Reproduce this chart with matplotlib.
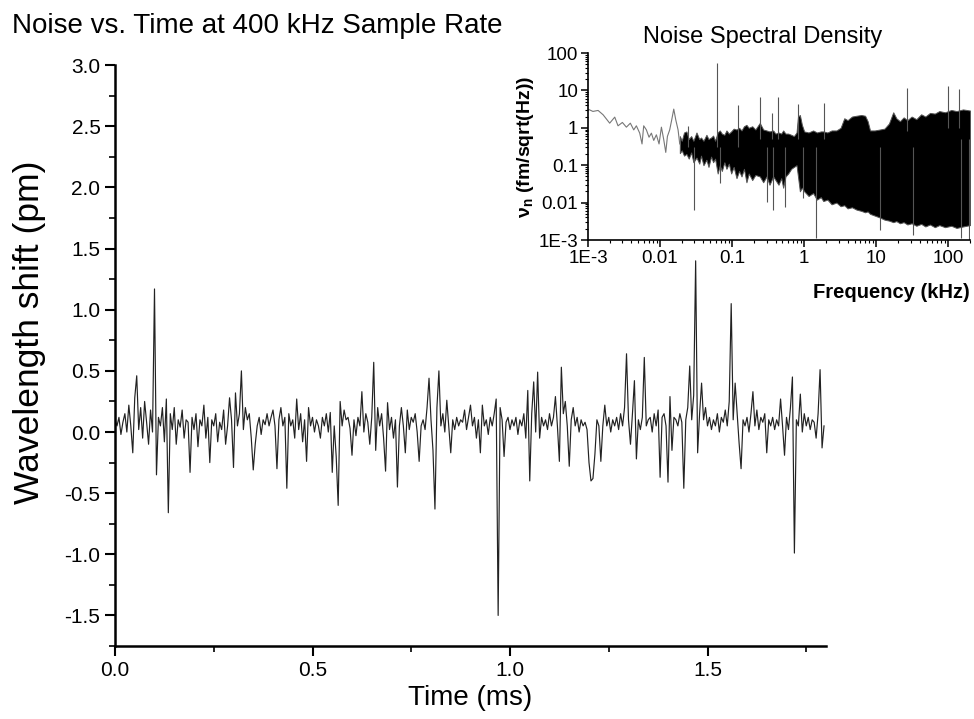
import matplotlib
matplotlib.use("Agg")
import matplotlib.pyplot as plt
import matplotlib.ticker as mticker
import numpy as np

plt.rcParams['font.family'] = ['Liberation Sans', 'DejaVu Sans']
plt.rcParams['axes.unicode_minus'] = False
plt.rcParams['mathtext.fontset'] = 'custom'
plt.rcParams['mathtext.rm'] = 'Liberation Sans'
plt.rcParams['mathtext.bf'] = 'Liberation Sans:bold'

# ---------------- main trace: wavelength shift (pm), sampled every 5 us ----------------
dt_ms = 0.005
shift_pm = [
    0.10, 0.05, 0.12, -0.02, 0.08, 0.15, 0.00, 0.22, 0.05, -0.17, 0.28, 0.46, 0.02, 0.20, -0.05, 0.25, 0.08, -0.10, 0.18, 0.00,
    1.17, -0.35, 0.12, 0.05, 0.20, -0.08, 0.27, -0.66, 0.15, 0.02, 0.20, -0.10, 0.10, 0.04, 0.18, -0.05, 0.10, 0.08, -0.33, 0.12,
    0.02, 0.15, -0.12, 0.10, 0.05, 0.22, -0.05, 0.12, -0.25, 0.10, 0.05, 0.15, -0.08, 0.08, 0.02, 0.18, -0.10, 0.05, 0.28, 0.10,
    -0.29, 0.32, 0.05, 0.15, 0.50, 0.02, 0.20, 0.10, 0.15, -0.05, -0.31, -0.10, 0.05, 0.12, -0.02, 0.10, 0.06, 0.15, 0.05, 0.12,
    0.18, 0.05, -0.30, 0.10, 0.20, 0.05, 0.12, -0.46, 0.15, 0.05, 0.10, -0.05, 0.27, 0.02, 0.15, -0.08, 0.10, -0.24, 0.20, 0.05,
    0.12, 0.00, 0.10, 0.05, -0.05, 0.12, 0.05, 0.15, 0.00, 0.16, -0.33, 0.05, -0.20, -0.60, 0.25, 0.05, 0.18, 0.10, 0.12, 0.03,
    -0.19, 0.10, -0.03, 0.12, 0.05, 0.33, 0.00, 0.15, 0.08, -0.10, 0.12, 0.57, -0.15, 0.20, 0.05, 0.15, -0.05, -0.32, 0.24, 0.02,
    0.12, -0.05, 0.10, -0.45, 0.05, 0.20, 0.05, -0.17, 0.18, 0.02, 0.12, 0.08, 0.15, 0.00, -0.24, 0.05, 0.10, 0.02, 0.20, 0.44,
    0.10, -0.15, -0.63, 0.20, 0.50, 0.05, 0.15, 0.00, 0.26, 0.05, -0.17, 0.10, 0.02, 0.12, 0.05, 0.10, 0.08, 0.18, 0.02, 0.12,
    0.22, 0.05, 0.12, -0.05, 0.10, -0.17, 0.22, 0.05, 0.10, -0.02, 0.12, 0.05, 0.15, 0.27, -1.50, 0.20, 0.10, -0.20, 0.08, 0.12,
    0.02, 0.10, 0.05, 0.12, -0.02, 0.10, 0.05, 0.15, -0.05, 0.34, -0.40, 0.15, 0.41, 0.00, 0.49, -0.05, 0.12, 0.05, 0.10, 0.02,
    0.15, 0.05, 0.12, 0.29, 0.05, -0.24, 0.53, 0.15, 0.25, 0.05, -0.28, 0.10, 0.20, 0.05, 0.12, 0.00, 0.10, 0.05, 0.08, 0.02,
    -0.25, -0.40, -0.38, -0.18, 0.10, 0.05, -0.24, 0.05, 0.22, 0.05, 0.12, 0.00, 0.10, 0.05, 0.12, 0.02, 0.15, 0.05, 0.20, 0.64,
    0.10, -0.10, 0.15, 0.42, -0.22, 0.10, 0.02, 0.12, 0.61, 0.05, 0.10, 0.12, 0.00, 0.15, 0.05, 0.18, -0.37, 0.12, 0.15, 0.05,
    -0.41, 0.29, -0.15, 0.12, 0.10, 0.05, 0.15, 0.08, -0.46, 0.10, 0.20, 0.54, 0.10, 0.30, 1.40, -0.17, 0.15, 0.40, 0.10, 0.20,
    0.05, 0.12, 0.02, 0.10, 0.05, 0.15, 0.00, 0.12, 0.08, 0.18, 0.05, 0.25, 1.05, 0.10, 0.40, 0.15, -0.09, -0.30, 0.10, 0.05,
    0.12, 0.00, 0.15, 0.33, 0.05, 0.18, 0.02, 0.12, 0.08, 0.15, -0.17, 0.10, 0.05, 0.12, 0.02, 0.10, 0.05, 0.27, 0.05, -0.19,
    0.12, 0.02, 0.20, 0.45, -0.99, 0.10, 0.05, 0.31, 0.00, 0.15, 0.05, 0.12, 0.02, 0.10, 0.08, -0.05, 0.15, 0.51, -0.13, 0.05,
]
time_ms = np.arange(len(shift_pm)) * dt_ms

# ---------------- inset: noise spectral density ----------------
# low-frequency single trace
lf_freq_khz = [0.001, 0.00117, 0.00138, 0.00162, 0.0020, 0.00235, 0.00261, 0.0030, 0.00341, 0.00387,
               0.00431, 0.00469, 0.00522, 0.00562, 0.00593, 0.00646, 0.00703, 0.00758, 0.00817, 0.00889,
               0.00968, 0.01044, 0.01125, 0.0120, 0.01265, 0.0136, 0.01452, 0.01549, 0.01651, 0.01778, 0.01875]
lf_density = [3.16, 2.74, 2.91, 2.23, 1.33, 1.93, 1.13, 1.39, 1.04, 1.33,
              0.88, 1.13, 0.72, 0.37, 1.13, 0.88, 0.56, 0.72, 0.46, 0.65,
              0.37, 1.04, 0.48, 0.22, 0.59, 0.88, 1.64, 3.16, 1.64, 0.88, 0.37]

# dense band envelope (upper / lower)
band_freq_khz = [0.0188, 0.020, 0.0215, 0.0232, 0.025, 0.027, 0.029, 0.032, 0.035, 0.037, 0.040, 0.044,
                 0.047, 0.051, 0.0545, 0.058, 0.063, 0.0674, 0.072, 0.078, 0.0834, 0.09, 0.097, 0.105,
                 0.115, 0.125, 0.135, 0.146, 0.158, 0.17, 0.19, 0.21, 0.242, 0.27, 0.30, 0.33, 0.371,
                 0.40, 0.44, 0.48, 0.511, 0.55, 0.60, 0.66, 0.72, 0.783, 0.82, 0.871, 0.93, 1.0, 1.15,
                 1.33, 1.5, 1.7, 1.84, 2.1, 2.4, 2.8, 3.2, 3.6, 4.0, 4.6, 5.3, 6.2, 7.0, 7.6, 8.2, 9.5,
                 11.2, 13.0, 15.0, 17.2, 19.0, 21.3, 24.0, 27.0, 31.0, 36.0, 42.0, 48.0, 55.6, 65.0,
                 75.0, 90.0, 110.0, 130.0, 160.0, 200.0]
band_upper = [0.60, 0.45, 0.75, 0.80, 0.50, 0.60, 0.45, 0.75, 0.50, 0.55, 0.45, 0.65,
              0.50, 0.55, 0.62, 0.45, 0.75, 0.85, 0.70, 0.65, 0.85, 0.70, 0.80, 0.95,
              0.90, 1.00, 0.85, 1.10, 1.20, 1.00, 1.10, 0.90, 1.35, 0.90, 0.85, 0.80, 0.85,
              0.70, 0.75, 0.70, 0.85, 0.70, 0.70, 0.65, 0.60, 0.75, 2.00, 2.20, 1.20, 0.80, 0.75,
              0.85, 0.75, 0.80, 0.80, 0.75, 0.85, 0.85, 1.00, 1.80, 1.60, 2.00, 2.10, 2.20, 2.10, 1.50, 0.85, 0.85,
              0.90, 0.95, 1.30, 2.60, 1.80, 1.50, 1.90, 1.60, 2.00, 1.70, 2.30, 2.00, 2.50, 2.40,
              2.80, 2.60, 3.00, 2.80, 3.10, 2.90]
band_lower = [0.21, 0.25, 0.18, 0.20, 0.15, 0.22, 0.12, 0.16, 0.11, 0.18, 0.10, 0.14,
              0.09, 0.17, 0.12, 0.15, 0.06, 0.10, 0.07, 0.12, 0.08, 0.11, 0.06, 0.09,
              0.045, 0.07, 0.05, 0.08, 0.035, 0.06, 0.04, 0.055, 0.05, 0.035, 0.05, 0.03, 0.05,
              0.04, 0.03, 0.045, 0.025, 0.05, 0.06, 0.08, 0.09, 0.10, 0.05, 0.02, 0.025, 0.02, 0.015,
              0.018, 0.012, 0.014, 0.011, 0.012, 0.009, 0.010, 0.008, 0.0085, 0.007, 0.0075, 0.0065, 0.006, 0.0055, 0.0058, 0.005, 0.0045,
              0.004, 0.0035, 0.0033, 0.003, 0.0032, 0.0028, 0.003, 0.0026, 0.0028, 0.0024, 0.0027, 0.0023, 0.0026, 0.0022,
              0.0025, 0.0022, 0.0024, 0.0021, 0.0023, 0.0025]

# isolated spikes (frequency, bottom, top)
spike_freq_khz = [0.0244, 0.0294, 0.0619, 0.0674, 0.119, 0.242, 0.30, 0.36, 0.371, 0.435, 0.539,
                  0.826, 0.968, 1.48, 1.90, 11.2, 26.4, 32.7, 100.0, 141.0, 150.0, 195.0]
spike_bottom = [0.3, 0.0064, 0.3, 0.034, 0.3, 0.5, 0.0107, 0.5, 0.0064, 0.5, 0.0075,
                0.5, 0.013, 0.0011, 0.5, 0.0018, 0.8, 0.00136, 1.0, 1.0, 0.0011, 0.001]
spike_top = [1.1, 0.3, 54.0, 0.3, 4.1, 6.6, 0.3, 2.5, 0.3, 6.6, 0.3,
             4.4, 0.3, 0.3, 4.6, 0.3, 11.7, 0.3, 13.0, 10.6, 0.5, 0.5]

# ---------------- figure ----------------
fig = plt.figure(figsize=(9.74, 7.19), dpi=100)

ax = fig.add_axes([115/974, 1-646/719, (826-115)/974, (646-65.2)/719])
ax.plot(time_ms, shift_pm, color='#222222', lw=0.85)
ax.set_xlim(0, 1.8)
ax.set_ylim(-1.75, 3.0)
ax.spines['top'].set_visible(False)
ax.spines['right'].set_visible(False)
for s in ('left', 'bottom'):
    ax.spines[s].set_linewidth(1.8)
ax.xaxis.set_major_locator(mticker.MultipleLocator(0.5))
ax.xaxis.set_minor_locator(mticker.MultipleLocator(0.25))
ax.yaxis.set_major_locator(mticker.FixedLocator([-1.5, -1.0, -0.5, 0.0, 0.5, 1.0, 1.5, 2.0, 2.5, 3.0]))
ax.yaxis.set_minor_locator(mticker.FixedLocator(np.arange(-1.75, 3.01, 0.25)))
ax.xaxis.set_major_formatter(mticker.FormatStrFormatter('%.1f'))
ax.yaxis.set_major_formatter(mticker.FormatStrFormatter('%.1f'))
ax.tick_params(which='major', direction='out', length=7, width=1.5, labelsize=15)
ax.tick_params(which='minor', direction='out', length=4, width=1.2)
ax.set_xlabel('Time (ms)', fontsize=20, labelpad=4)
ax.set_ylabel('Wavelength shift (pm)', fontsize=25.5)
ax.yaxis.set_label_coords(-0.097, 0.54)

fig.text(12/974, 1-33/719, 'Noise vs. Time at 400 kHz Sample Rate', fontsize=20, va='baseline', ha='left')

# inset
ins = fig.add_axes([588/974, 1-240/719, (970-588)/974, (240-53)/719])
ins.plot(lf_freq_khz, lf_density, color='#777777', lw=0.8)
ins.fill_between(band_freq_khz, band_lower, band_upper, facecolor='black', lw=0.7, edgecolor='#555555')
ins.vlines(spike_freq_khz, spike_bottom, spike_top, color='#555555', lw=0.8)
ins.set_xscale('log')
ins.set_yscale('log')
ins.set_xlim(1e-3, 200)
ins.set_ylim(1e-3, 100)
ins.spines['top'].set_visible(False)
ins.spines['right'].set_visible(False)
for s in ('left', 'bottom'):
    ins.spines[s].set_linewidth(1.2)
lab = {1e-3: '1E-3', 1e-2: '0.01', 1e-1: '0.1', 1: '1', 10: '10', 100: '100'}
ins.xaxis.set_major_locator(mticker.FixedLocator(list(lab.keys())))
ins.yaxis.set_major_locator(mticker.FixedLocator(list(lab.keys())))
fmt = mticker.FuncFormatter(lambda v, p: lab.get(min(lab, key=lambda k: abs(np.log10(k) - np.log10(v))), ''))
ins.xaxis.set_major_formatter(fmt)
ins.yaxis.set_major_formatter(fmt)
ins.xaxis.set_minor_locator(mticker.LogLocator(base=10, subs=np.arange(2, 10), numticks=20))
ins.yaxis.set_minor_locator(mticker.LogLocator(base=10, subs=np.arange(2, 10), numticks=20))
ins.xaxis.set_minor_formatter(mticker.NullFormatter())
ins.yaxis.set_minor_formatter(mticker.NullFormatter())
ins.tick_params(which='major', direction='out', length=5, width=1.1, labelsize=13.5, pad=2)
ins.tick_params(which='minor', direction='out', length=2.5, width=0.8)
ins.set_xlabel('Frequency (kHz)', fontsize=14.5, fontweight='bold', loc='right', labelpad=12)
ins.set_ylabel(r'ν$_\mathbf{n}$ (fm/sqrt(Hz))', fontsize=14, fontweight='bold', labelpad=2)
fig.text(763/974, 1-37/719, 'Noise Spectral Density', fontsize=17, ha='center', va='center')

fig.savefig('out.png', dpi=100)
